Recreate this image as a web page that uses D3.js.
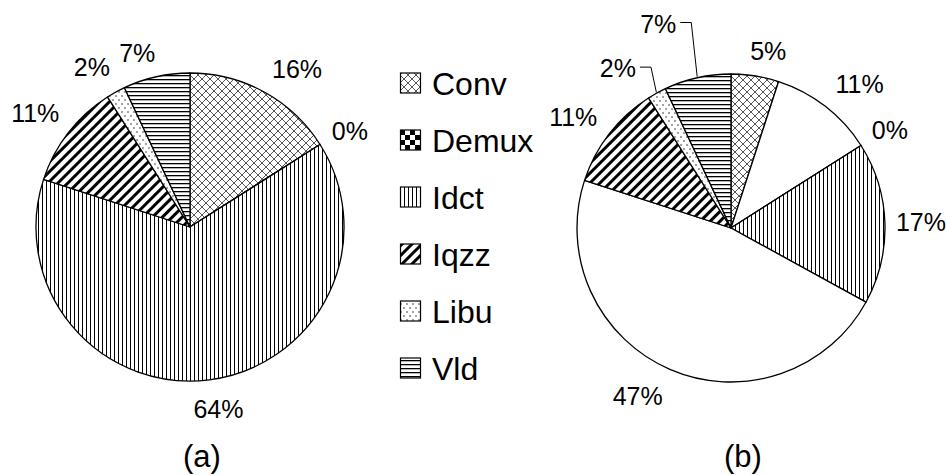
<!DOCTYPE html>
<html>
<head>
<meta charset="utf-8">
<script src="https://cdn.jsdelivr.net/npm/d3@7"></script>
<style>
  body { margin: 0; background: #fff; }
  svg { display: block; font-family: "Liberation Sans", Arial, sans-serif; }
</style>
</head>
<body>
<svg id="chart" width="946" height="475"></svg>
<script>
// legend categories (pattern key per category)
var categories = ["Conv", "Demux", "Idct", "Iqzz", "Libu", "Vld"];

// pie (a): share per category, clockwise from 12 o'clock
var namesA = ["Conv", "Demux", "Idct", "Iqzz", "Libu", "Vld"];
var valuesA = [16, 0, 64, 11, 2, 7];

// pie (b): two extra slices without a legend entry (drawn white)
var namesB = ["Conv", "Other1", "Demux", "Idct", "Other2", "Iqzz", "Libu", "Vld"];
var valuesB = [5, 11, 0, 17, 47, 11, 2, 7];

var captions = ["(a)", "(b)"];

// label nudges (layout only) relative to the slice centroid at label radius
var nudgeA = [[17, 6], [2, 4], [5, -4], [-7, 1], [-8, 4], [-12, 8]];
var nudgeB = [[8, 8], [14, 4], [1, 2], [3, 0], [-19, -4], [-10, 4], [-23, 4], [-32, -22]];
var leaderB = [false, false, false, false, false, false, true, true];

var svg = d3.select("#chart");
var defs = svg.append("defs");

// ---- fill patterns ----
var p;
p = defs.append("pattern").attr("id", "pat-Conv").attr("patternUnits", "userSpaceOnUse")
    .attr("width", 8).attr("height", 8);
p.append("rect").attr("width", 8).attr("height", 8).attr("fill", "#fff");
p.append("path").attr("d", "M0,0L8,8M8,0L0,8").attr("stroke", "#444").attr("stroke-width", 0.9);

p = defs.append("pattern").attr("id", "pat-Demux").attr("patternUnits", "userSpaceOnUse")
    .attr("width", 10).attr("height", 10);
p.append("rect").attr("width", 10).attr("height", 10).attr("fill", "#fff");
p.append("rect").attr("width", 5).attr("height", 5).attr("fill", "#000");
p.append("rect").attr("x", 5).attr("y", 5).attr("width", 5).attr("height", 5).attr("fill", "#000");

p = defs.append("pattern").attr("id", "pat-Idct").attr("patternUnits", "userSpaceOnUse")
    .attr("width", 4).attr("height", 4);
p.append("rect").attr("width", 4).attr("height", 4).attr("fill", "#fff");
p.append("rect").attr("x", 0).attr("width", 1).attr("height", 4).attr("fill", "#000");

p = defs.append("pattern").attr("id", "pat-Iqzz").attr("patternUnits", "userSpaceOnUse")
    .attr("width", 7).attr("height", 7).attr("patternTransform", "rotate(45)");
p.append("rect").attr("width", 7).attr("height", 7).attr("fill", "#fff");
p.append("rect").attr("width", 3).attr("height", 7).attr("fill", "#000");

p = defs.append("pattern").attr("id", "pat-Libu").attr("patternUnits", "userSpaceOnUse")
    .attr("width", 6).attr("height", 8);
p.append("rect").attr("width", 6).attr("height", 8).attr("fill", "#fff");
p.append("circle").attr("cx", 1).attr("cy", 1).attr("r", 0.7).attr("fill", "#000");
p.append("circle").attr("cx", 4).attr("cy", 5).attr("r", 0.7).attr("fill", "#000");

p = defs.append("pattern").attr("id", "pat-Vld").attr("patternUnits", "userSpaceOnUse")
    .attr("width", 4).attr("height", 4);
p.append("rect").attr("width", 4).attr("height", 4).attr("fill", "#fff");
p.append("rect").attr("y", 0).attr("width", 4).attr("height", 1.3).attr("fill", "#000");

var fillFor = function(name){
    return categories.indexOf(name) >= 0 ? "url(#pat-" + name + ")" : "#fff";
};

// ---- pies ----
var radius = 154;
var labelR = 187;

var pie = d3.pie().sort(null).value(function(d){ return d.value; });
var arc = d3.arc().innerRadius(0).outerRadius(radius);
var labelArc = d3.arc().innerRadius(labelR).outerRadius(labelR);

var drawPie = function(cx, cy, names, values, nudge, leader, caption){
    var data = names.map(function(n, i){ return {name: n, value: values[i]}; });
    var arcs = pie(data);
    var g = svg.append("g").attr("transform", "translate(" + cx + "," + cy + ")");

    g.selectAll("path.slice")
        .data(arcs)
        .enter()
        .append("path")
        .attr("class", "slice")
        .attr("d", arc)
        .attr("fill", function(d){ return fillFor(d.data.name); })
        .attr("stroke", "#000")
        .attr("stroke-width", 1.3)
        .attr("stroke-linejoin", "round");

    arcs.forEach(function(d, i){
        var c = labelArc.centroid(d);
        var x = c[0] + nudge[i][0];
        var y = c[1] + nudge[i][1];
        var t = g.append("text")
            .attr("x", x).attr("y", y)
            .attr("dy", "0.36em")
            .attr("text-anchor", "middle")
            .attr("font-size", 25)
            .text(d.data.value + "%");
        if(leader[i]){
            var w = t.node().getComputedTextLength();
            var mid = (d.startAngle + d.endAngle) / 2;
            var ex = (radius + 1) * Math.sin(mid);
            var ey = -(radius + 1) * Math.cos(mid);
            var sx = x + w / 2 + 4;
            g.append("path")
                .attr("d", "M" + sx + "," + (y - 1) + "H" + (sx + 11) + "L" + ex + "," + ey)
                .attr("fill", "none")
                .attr("stroke", "#000")
                .attr("stroke-width", 1);
        }
    });

    svg.append("text")
        .attr("x", cx + 12).attr("y", 467)
        .attr("text-anchor", "middle")
        .attr("font-size", 31)
        .text(caption);
};

drawPie(190, 227, namesA, valuesA, nudgeA, namesA.map(function(){ return false; }), captions[0]);
drawPie(731, 228, namesB, valuesB, nudgeB, leaderB, captions[1]);

// ---- legend ----
var legend = svg.append("g").attr("transform", "translate(400,83)");
var item = legend.selectAll("g")
    .data(categories)
    .enter()
    .append("g")
    .attr("transform", function(d, i){ return "translate(0," + (i * 57) + ")"; });

item.append("rect")
    .attr("x", 0.5).attr("y", -10)
    .attr("width", 20).attr("height", 20)
    .attr("fill", function(d){ return fillFor(d); })
    .attr("stroke", "#000")
    .attr("stroke-width", 1.2);

item.append("text")
    .attr("x", 32).attr("y", 0)
    .attr("dy", "0.36em")
    .attr("font-size", 32)
    .text(function(d){ return d; });
</script>
</body>
</html>
